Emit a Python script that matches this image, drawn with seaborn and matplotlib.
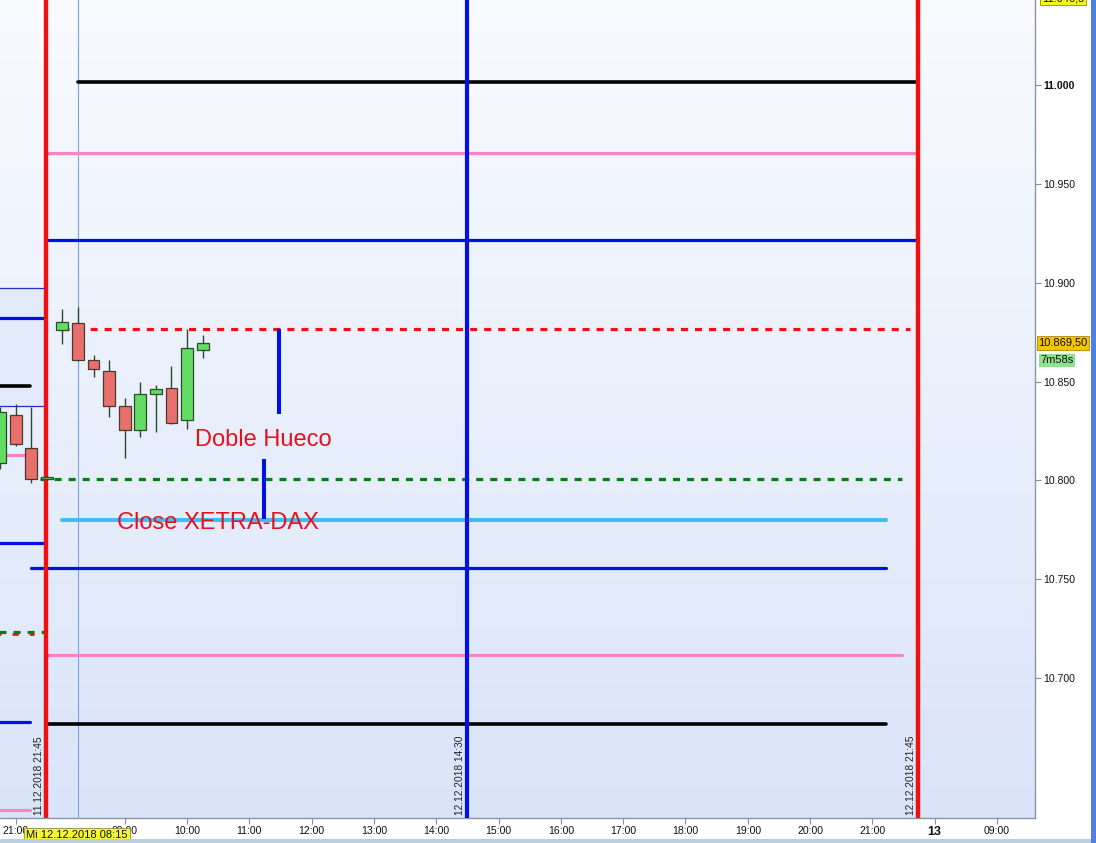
import numpy as np
import pandas as pd
import matplotlib
matplotlib.use("Agg")
import matplotlib.pyplot as plt
from matplotlib.patches import Rectangle
import seaborn as sns

# ---------------- data ----------------
# time axis: hours of session time since 12.12.2018 08:00 (overnight compressed)
candle_time = [-1.0, -0.75, -0.5, -0.25, 0.0, 0.25, 0.5, 0.75, 1.0, 1.25, 1.5, 1.75, 2.0, 2.25]
candle_open = [10808.6, 10833.1, 10816.2, 10800.5, 10875.9, 10879.4, 10860.7, 10855.2, 10837.5,
               10825.6, 10843.5, 10846.6, 10830.4, 10865.8]
candle_high = [10837.0, 10838.5, 10837.3, 10802.0, 10886.5, 10887.8, 10863.3, 10860.7, 10841.5,
               10849.6, 10848.1, 10857.7, 10876.7, 10873.4]
candle_low = [10806.0, 10817.5, 10798.8, 10800.0, 10869.1, 10860.5, 10852.4, 10832.2, 10811.5,
              10821.8, 10824.6, 10828.4, 10825.8, 10862.0]
candle_close = [10834.4, 10818.2, 10800.5, 10801.5, 10879.95, 10860.7, 10856.2, 10837.5, 10825.3,
                10843.5, 10846.1, 10828.9, 10866.8, 10869.5]

# horizontal levels of 12.12
level_price = [11001.5, 10965.6, 10921.6, 10876.6, 10800.7, 10779.9, 10755.6, 10711.6, 10676.7]
level_start = [0.25, -0.26, -0.26, 0.0, -0.36, 0.0, -0.5, -0.26, -0.26]
level_end = [13.7, 13.7, 13.7, 13.6, 13.47, 13.22, 13.22, 13.47, 13.22]
level_kind = ["black", "pink", "blue", "reddash", "greendash", "sky", "blue", "pink", "black"]

# previous-day levels (left edge)
prev_price = [10882.1, 10847.7, 10812.8, 10768.3, 10722.2, 10723.3, 10677.7, 10633.2]
prev_end = [-0.3, -0.52, -0.52, -0.3, -0.45, -0.3, -0.52, -0.52]
prev_kind = ["blue", "black", "pink", "blue", "reddash2", "greendash", "blue", "pink"]
prev_box = (10837.6, 10897.3)

# vertical markers
vline_time = [-0.26, 0.25, 6.5, 13.73]
vline_kind = ["red", "cursor", "blue", "red"]
vline_label = ["11.12.2018 21:45", None, "12.12.2018 14:30", "12.12.2018 21:45"]

# gap segments
gap_time = [3.48, 3.24]
gap_low = [10833.7, 10780.4]
gap_high = [10876.6, 10810.8]

tick_time = [-0.75, 1.0, 2.0, 3.0, 4.0, 5.0, 6.0, 7.0, 8.0, 9.0, 10.0, 11.0, 12.0, 13.0, 14.0, 15.0]
tick_label = ["21:00", "09:00", "10:00", "11:00", "12:00", "13:00", "14:00", "15:00", "16:00",
              "17:00", "18:00", "19:00", "20:00", "21:00", "13", "09:00"]
y_ticks = [10700, 10750, 10800, 10850, 10900, 10950, 11000]

last_price = 10869.5
top_price = 11046.5

# ---------------- style ----------------
sns.set_theme(style="white")
plt.rcParams["font.family"] = ["Liberation Sans", "DejaVu Sans"]

styles = {
    "black": dict(color="#000000", lw=2.6, ls="-"),
    "pink": dict(color="#f585c5", lw=2.3, ls="-"),
    "blue": dict(color="#0010e6", lw=2.3, ls="-"),
    "reddash": dict(color="#ee1111", lw=2.3, ls=(0, (2.2, 2.2))),
    "reddash2": dict(color="#ee1111", lw=2.0, ls=(1.5, (2.2, 4.0))),
    "greendash": dict(color="#008010", lw=2.3, ls=(0, (2.2, 2.2))),
    "sky": dict(color="#40bdf5", lw=2.9, ls="-"),
}
vstyles = {
    "red": dict(color="#ee1111", lw=3.2),
    "blue": dict(color="#0010e6", lw=3.0),
    "cursor": dict(color="#7da2d8", lw=0.8),
}

W, H = 1096, 843
fig = plt.figure(figsize=(W / 100, H / 100), dpi=100)
fig.patch.set_facecolor("white")
ax = fig.add_axes([0.0, 1 - 818 / H, 1035 / W, 818 / H])

xmin, xmax = -1.0016, 15.61
ymin, ymax = 10629.2, 11043.0
ax.set_xlim(xmin, xmax)
ax.set_ylim(ymin, ymax)

# gradient background
grad = np.linspace(0, 1, 256).reshape(-1, 1)
top_c = np.array([0.975, 0.983, 1.0])
bot_c = np.array([0.855, 0.894, 0.975])
img = top_c[None, None, :] * (1 - grad[:, :, None]) + bot_c[None, None, :] * grad[:, :, None]
ax.imshow(img, extent=[xmin, xmax, ymin, ymax], aspect="auto", origin="upper", zorder=0)

# previous day box
ax.add_patch(Rectangle((xmin - 0.1, prev_box[0]), -0.3 - (xmin - 0.1), prev_box[1] - prev_box[0],
                       facecolor="#e3eafb", edgecolor="none", zorder=1))
ax.hlines(list(prev_box), xmin - 0.1, -0.3, color="#2030c8", lw=0.9, zorder=1.5)

# levels via seaborn
rows = []
for i, (p, s, e, k) in enumerate(zip(level_price, level_start, level_end, level_kind)):
    rows += [dict(id=f"l{i}", t=s, price=p, kind=k), dict(id=f"l{i}", t=e, price=p, kind=k)]
for i, (p, e, k) in enumerate(zip(prev_price, prev_end, prev_kind)):
    rows += [dict(id=f"p{i}", t=xmin - 0.1, price=p, kind=k), dict(id=f"p{i}", t=e, price=p, kind=k)]
lv = pd.DataFrame(rows)
for lid, g in lv.groupby("id", sort=False):
    st = styles[g["kind"].iloc[0]]
    sns.lineplot(data=g, x="t", y="price", ax=ax, color=st["color"], linewidth=st["lw"],
                 linestyle=st["ls"], zorder=3, legend=False, estimator=None, sort=False)

# vertical markers
for t, k, lab in zip(vline_time, vline_kind, vline_label):
    st = vstyles[k]
    ax.axvline(t, color=st["color"], lw=st["lw"], zorder=4 if k != "cursor" else 2.5)
    if lab:
        ax.annotate(lab, xy=(t, 0), xycoords=("data", "axes fraction"), xytext=(-1.5, 2.5),
                    textcoords="offset points", rotation=90, ha="right", va="bottom",
                    fontsize=7.4, color="#222222", zorder=5)

# gap segments
ax.vlines(gap_time, gap_low, gap_high, color="#0010e6", lw=2.9, zorder=4)

# candles
ct = np.array(candle_time)
o = np.array(candle_open); c = np.array(candle_close)
hi = np.array(candle_high); lo = np.array(candle_low)
up = c >= o
ax.vlines(ct, lo, hi, color="#2b4a2b", lw=1.0, zorder=5)
ax.bar(ct[up], (c - o)[up], bottom=o[up], width=0.19, color="#62dc62", edgecolor="#2b4a2b",
       linewidth=0.9, zorder=6)
ax.bar(ct[~up], (c - o)[~up], bottom=o[~up], width=0.19, color="#e8706c", edgecolor="#4a3a2b",
       linewidth=0.9, zorder=6)

# annotations
ax.text(2.13, 10820.5, "Doble Hueco", color="#e8101a", fontsize=17, va="center", ha="left", zorder=7)
ax.text(0.87, 10778.3, "Close XETRA-DAX", color="#e8101a", fontsize=17, va="center", ha="left", zorder=7)

# axes
ax.yaxis.tick_right()
ax.set_yticks(y_ticks)
ax.set_yticklabels([f"{v:,}".replace(",", ".") for v in y_ticks], fontsize=7.6)
for lbl in ax.get_yticklabels():
    if lbl.get_text() == "11.000":
        lbl.set_fontweight("bold")
ax.set_xticks(tick_time)
ax.set_xticklabels(tick_label, fontsize=7.6)
for lbl in ax.get_xticklabels():
    if lbl.get_text() == "13":
        lbl.set_fontweight("bold")
        lbl.set_fontsize(9)
ax.tick_params(axis="both", direction="out", length=4, width=0.8, color="#8090a0",
               labelcolor="#111111", pad=2, bottom=True, right=True, left=False)
ax.set_xlabel(""); ax.set_ylabel("")
for s in ["top", "left"]:
    ax.spines[s].set_visible(False)
for s in ["right", "bottom"]:
    ax.spines[s].set_color("#8a96a6")
    ax.spines[s].set_linewidth(1.0)

# price boxes on right axis
ax.annotate(f"{last_price:,.2f}".replace(",", "X").replace(".", ",").replace("X", "."),
            xy=(1.0, last_price), xycoords=("axes fraction", "data"), xytext=(2.5, 0),
            textcoords="offset points", ha="left", va="center", fontsize=8, color="#111111",
            bbox=dict(boxstyle="square,pad=0.15", fc="#f5c400", ec="#b08800", lw=0.6), zorder=8,
            annotation_clip=False)
ax.annotate("7m58s", xy=(1.0, last_price), xycoords=("axes fraction", "data"), xytext=(4, -12.5),
            textcoords="offset points", ha="left", va="center", fontsize=8, color="#111111",
            bbox=dict(boxstyle="square,pad=0.15", fc="#8fe08f", ec="none"), zorder=8,
            annotation_clip=False)
ax.annotate(f"{top_price:,.1f}".replace(",", "X").replace(".", ",").replace("X", "."),
            xy=(1.0, 1.0), xycoords="axes fraction", xytext=(5, 1),
            textcoords="offset points", ha="left", va="center", fontsize=8, color="#111111",
            bbox=dict(boxstyle="square,pad=0.15", fc="#f5f520", ec="#909000", lw=0.6), zorder=8,
            annotation_clip=False)
ax.annotate("Mi 12.12.2018 08:15", xy=(0.25, 0), xycoords=("data", "axes fraction"),
            xytext=(-1, -12.5), textcoords="offset points", ha="center", va="center",
            fontsize=8, color="#111111",
            bbox=dict(boxstyle="square,pad=0.2", fc="#f8f830", ec="#8a8a40", lw=0.6), zorder=8,
            annotation_clip=False)

# window decoration: right scrollbar + bottom strip
fig.add_artist(Rectangle((1091 / W, 0), 5 / W, 1, transform=fig.transFigure,
                         facecolor="#4f7fe0", edgecolor="none"))
fig.add_artist(Rectangle((0, 0), 1091 / W, 4 / H, transform=fig.transFigure,
                         facecolor="#b9cfe2", edgecolor="none"))

fig.savefig("out.png", dpi=100)
